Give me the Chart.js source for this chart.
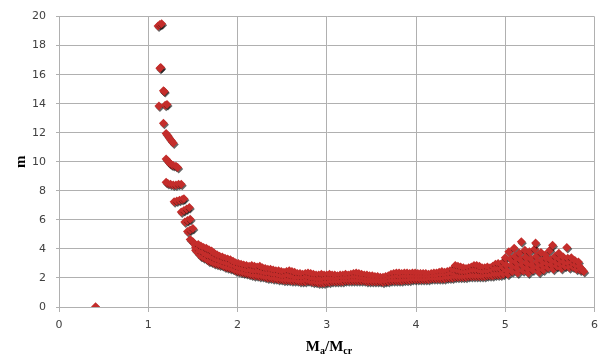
<!DOCTYPE html>
<html>
<head>
<meta charset="utf-8">
<script src="https://cdn.jsdelivr.net/npm/chart.js@4"></script>
<style>
  html, body { margin: 0; padding: 0; background: #fff; }
  #wrap { width: 605px; height: 363px; position: relative; }
  #x-title {
    position: absolute; left: 59px; width: 540px; top: 338px;
    text-align: center; font: bold 15px "Liberation Serif", "Times New Roman", serif; color: #000;
  }
  #x-title sub { font-size: 10px; vertical-align: -3px; line-height: 0; }
</style>
</head>
<body>
<div id="wrap">
  <canvas id="scatter-chart"></canvas>
  <div id="x-title">M<sub>a</sub>/M<sub>cr</sub></div>
</div>
<script>
// axis ticks
const xTicks = [0, 1, 2, 3, 4, 5, 6];
const yTicks = [0, 2, 4, 6, 8, 10, 12, 14, 16, 18, 20];

// [Ma/Mcr, m]
const outlier = [[0.41, 0.02]];

const steepArm = [
    [1.11, 19.35], [1.13, 19.45], [1.15, 19.5],
    [1.14, 16.5], [1.13, 16.45],
    [1.17, 14.9], [1.18, 14.85],
    [1.12, 13.85], [1.19, 13.9], [1.21, 13.95],
    [1.17, 12.65],
    [1.20, 11.95], [1.22, 11.8], [1.24, 11.6], [1.26, 11.45], [1.28, 11.3],
    [1.20, 10.2], [1.22, 10.05], [1.24, 9.9], [1.26, 9.8], [1.28, 9.75], [1.31, 9.7], [1.33, 9.6],
    [1.20, 8.6], [1.22, 8.5], [1.25, 8.45], [1.28, 8.4], [1.31, 8.4], [1.34, 8.45], [1.37, 8.45],
    [1.29, 7.25], [1.32, 7.3], [1.35, 7.35], [1.38, 7.4], [1.40, 7.45],
    [1.37, 6.55], [1.40, 6.65], [1.43, 6.75], [1.46, 6.85],
    [1.41, 5.85], [1.44, 5.95], [1.47, 6.05],
    [1.44, 5.2], [1.47, 5.3], [1.50, 5.4],
    [1.47, 4.65], [1.50, 4.5], [1.52, 4.3]
];

const band = [
    [1.53, 4.1], [1.53, 3.9],
    [1.56, 4.3], [1.56, 4.0], [1.56, 3.7],
    [1.59, 4.2], [1.59, 3.8], [1.59, 3.5],
    [1.62, 4.1], [1.62, 3.75], [1.62, 3.4],
    [1.65, 4.05], [1.65, 3.6], [1.65, 3.3],
    [1.68, 3.95], [1.68, 3.5], [1.68, 3.15],
    [1.71, 3.85], [1.71, 3.45], [1.71, 3.1],
    [1.74, 3.7], [1.74, 3.35], [1.74, 3.0],
    [1.77, 3.6], [1.77, 3.25], [1.77, 2.95],
    [1.80, 3.5], [1.80, 3.2], [1.80, 2.9],
    [1.83, 3.45], [1.83, 3.1], [1.83, 2.85],
    [1.86, 3.35], [1.86, 3.05], [1.86, 2.75],
    [1.89, 3.3], [1.89, 3.0], [1.89, 2.7],
    [1.92, 3.25], [1.92, 2.95], [1.92, 2.65],
    [1.95, 3.15], [1.95, 2.85], [1.95, 2.6],
    [1.98, 3.05], [1.98, 2.8], [1.98, 2.5],
    [2.01, 3.0], [2.01, 2.7], [2.01, 2.45],
    [2.04, 2.95], [2.04, 2.65], [2.04, 2.4],
    [2.07, 2.9], [2.07, 2.6], [2.07, 2.35],
    [2.10, 2.85], [2.10, 2.55], [2.10, 2.3],
    [2.13, 2.8], [2.13, 2.5], [2.13, 2.25],
    [2.16, 2.85], [2.16, 2.5], [2.16, 2.2],
    [2.19, 2.8], [2.19, 2.45], [2.19, 2.15],
    [2.22, 2.75], [2.22, 2.45], [2.22, 2.15],
    [2.25, 2.8], [2.25, 2.45], [2.25, 2.1],
    [2.28, 2.7], [2.28, 2.4], [2.28, 2.1],
    [2.31, 2.65], [2.31, 2.35], [2.31, 2.05],
    [2.34, 2.6], [2.34, 2.3], [2.34, 2.0],
    [2.37, 2.6], [2.37, 2.3], [2.37, 2.0],
    [2.40, 2.55], [2.40, 2.25], [2.40, 1.95],
    [2.43, 2.5], [2.43, 2.2], [2.43, 1.95],
    [2.46, 2.5], [2.46, 2.2], [2.46, 1.9],
    [2.49, 2.45], [2.49, 2.15], [2.49, 1.9],
    [2.52, 2.4], [2.52, 2.1], [2.52, 1.85],
    [2.55, 2.45], [2.55, 2.1], [2.55, 1.85],
    [2.58, 2.5], [2.58, 2.15], [2.58, 1.85],
    [2.61, 2.45], [2.61, 2.1], [2.61, 1.8],
    [2.64, 2.4], [2.64, 2.05], [2.64, 1.8],
    [2.67, 2.3], [2.67, 2.0], [2.67, 1.8],
    [2.70, 2.3], [2.70, 2.0], [2.70, 1.75],
    [2.73, 2.25], [2.73, 2.0], [2.73, 1.75],
    [2.76, 2.3], [2.76, 2.0], [2.76, 1.75],
    [2.79, 2.35], [2.79, 2.05], [2.79, 1.8],
    [2.82, 2.3], [2.82, 2.0], [2.82, 1.75],
    [2.85, 2.25], [2.85, 1.95], [2.85, 1.7],
    [2.88, 2.2], [2.88, 1.95], [2.88, 1.7],
    [2.91, 2.2], [2.91, 1.9], [2.91, 1.65],
    [2.94, 2.25], [2.94, 1.9], [2.94, 1.65],
    [2.97, 2.2], [2.97, 1.9], [2.97, 1.65],
    [3.00, 2.2], [3.00, 1.95], [3.00, 1.7],
    [3.03, 2.25], [3.03, 1.95], [3.03, 1.7],
    [3.06, 2.2], [3.06, 1.95], [3.06, 1.75],
    [3.09, 2.2], [3.09, 1.95], [3.09, 1.75],
    [3.12, 2.15], [3.12, 1.95], [3.12, 1.75],
    [3.15, 2.2], [3.15, 1.95], [3.15, 1.75],
    [3.18, 2.2], [3.18, 2.0], [3.18, 1.75],
    [3.21, 2.25], [3.21, 2.0], [3.21, 1.8],
    [3.24, 2.2], [3.24, 2.0], [3.24, 1.8],
    [3.27, 2.25], [3.27, 2.0], [3.27, 1.8],
    [3.30, 2.3], [3.30, 2.05], [3.30, 1.8],
    [3.33, 2.35], [3.33, 2.05], [3.33, 1.8],
    [3.36, 2.3], [3.36, 2.05], [3.36, 1.8],
    [3.39, 2.25], [3.39, 2.0], [3.39, 1.8],
    [3.42, 2.2], [3.42, 2.0], [3.42, 1.8],
    [3.45, 2.2], [3.45, 1.95], [3.45, 1.75],
    [3.48, 2.15], [3.48, 1.95], [3.48, 1.75],
    [3.51, 2.15], [3.51, 1.95], [3.51, 1.75],
    [3.54, 2.1], [3.54, 1.9], [3.54, 1.75],
    [3.57, 2.1], [3.57, 1.9], [3.57, 1.75],
    [3.60, 2.05], [3.60, 1.9], [3.60, 1.75],
    [3.63, 2.05], [3.63, 1.9], [3.63, 1.7],
    [3.66, 2.1], [3.66, 1.9], [3.66, 1.75],
    [3.69, 2.15], [3.69, 1.95], [3.69, 1.75],
    [3.72, 2.25], [3.72, 2.0], [3.72, 1.8],
    [3.75, 2.3], [3.75, 2.05], [3.75, 1.8],
    [3.78, 2.35], [3.78, 2.05], [3.78, 1.8],
    [3.81, 2.35], [3.81, 2.1], [3.81, 1.8],
    [3.84, 2.3], [3.84, 2.05], [3.84, 1.8],
    [3.87, 2.35], [3.87, 2.1], [3.87, 1.85],
    [3.90, 2.35], [3.90, 2.1], [3.90, 1.85],
    [3.93, 2.3], [3.93, 2.1], [3.93, 1.85],
    [3.96, 2.35], [3.96, 2.1], [3.96, 1.9],
    [3.99, 2.35], [3.99, 2.1], [3.99, 1.9],
    [4.02, 2.3], [4.02, 2.1], [4.02, 1.9],
    [4.05, 2.3], [4.05, 2.1], [4.05, 1.9],
    [4.08, 2.3], [4.08, 2.1], [4.08, 1.9],
    [4.11, 2.3], [4.11, 2.1], [4.11, 1.9],
    [4.14, 2.25], [4.14, 2.1], [4.14, 1.9],
    [4.17, 2.3], [4.17, 2.1], [4.17, 1.95],
    [4.20, 2.35], [4.20, 2.15], [4.20, 1.95],
    [4.23, 2.35], [4.23, 2.15], [4.23, 1.95],
    [4.26, 2.4], [4.26, 2.15], [4.26, 1.95],
    [4.29, 2.45], [4.29, 2.2], [4.29, 1.95],
    [4.32, 2.4], [4.32, 2.2], [4.32, 1.95],
    [4.35, 2.45], [4.35, 2.2], [4.35, 2.0],
    [4.38, 2.5], [4.38, 2.25], [4.38, 2.0],
    [4.41, 2.6], [4.41, 2.3], [4.41, 2.0],
    [4.44, 2.85], [4.44, 2.5], [4.44, 2.25], [4.44, 2.05],
    [4.47, 2.8], [4.47, 2.5], [4.47, 2.05],
    [4.50, 2.75], [4.50, 2.45], [4.50, 2.05],
    [4.53, 2.7], [4.53, 2.4], [4.53, 2.05],
    [4.56, 2.65], [4.56, 2.4], [4.56, 2.05],
    [4.59, 2.7], [4.59, 2.4], [4.59, 2.1],
    [4.62, 2.75], [4.62, 2.45], [4.62, 2.1],
    [4.65, 2.85], [4.65, 2.5], [4.65, 2.1],
    [4.68, 2.85], [4.68, 2.5], [4.68, 2.1],
    [4.71, 2.8], [4.71, 2.5], [4.71, 2.1],
    [4.74, 2.7], [4.74, 2.45], [4.74, 2.1],
    [4.77, 2.7], [4.77, 2.4], [4.77, 2.1],
    [4.80, 2.75], [4.80, 2.45], [4.80, 2.15],
    [4.83, 2.7], [4.83, 2.45], [4.83, 2.15],
    [4.86, 2.8], [4.86, 2.5], [4.86, 2.15],
    [4.89, 2.95], [4.89, 2.6], [4.89, 2.2],
    [4.92, 3.0], [4.92, 2.6], [4.92, 2.2],
    [4.95, 2.95], [4.95, 2.6], [4.95, 2.2],
    [4.98, 3.1], [4.98, 2.7], [4.98, 2.25]
];

const tail = [
    [5.00, 3.4], [5.01, 2.9], [5.02, 2.5], [5.03, 2.25],
    [5.04, 3.8], [5.06, 3.3], [5.07, 2.85], [5.08, 2.45],
    [5.10, 4.05], [5.11, 3.5], [5.12, 3.1], [5.13, 2.7], [5.14, 2.35],
    [5.16, 3.7], [5.17, 3.25], [5.18, 4.5], [5.19, 2.9], [5.20, 2.5],
    [5.22, 3.9], [5.23, 3.45], [5.24, 3.05], [5.25, 2.65], [5.26, 2.35],
    [5.27, 3.8], [5.29, 3.3], [5.30, 2.9], [5.31, 2.55],
    [5.33, 4.0], [5.34, 4.4], [5.35, 3.5], [5.36, 3.1], [5.37, 2.7], [5.38, 2.4],
    [5.40, 3.75], [5.41, 3.2], [5.42, 2.85], [5.43, 2.55],
    [5.45, 3.6], [5.46, 3.35], [5.47, 3.0], [5.48, 2.7],
    [5.50, 3.9], [5.51, 3.25], [5.52, 2.9], [5.53, 4.25], [5.54, 2.6],
    [5.56, 3.5], [5.57, 3.1], [5.58, 2.8],
    [5.60, 3.7], [5.61, 3.3], [5.62, 2.95], [5.63, 2.65],
    [5.65, 3.45], [5.66, 3.1], [5.67, 2.8],
    [5.69, 4.1], [5.70, 3.35], [5.71, 3.0], [5.72, 2.7],
    [5.74, 3.4], [5.75, 3.05], [5.76, 2.75],
    [5.78, 3.2], [5.79, 2.9], [5.80, 2.6],
    [5.82, 3.1], [5.83, 2.8], [5.84, 2.55],
    [5.86, 2.6], [5.88, 2.45]
];

const points = outlier.concat(steepArm, band, tail).map(p => ({ x: p[0], y: p[1] }));

// hard drop shadow under the diamonds
const markerShadow = {
    id: 'markerShadow',
    beforeDatasetsDraw(chart) {
        const c = chart.ctx;
        c.save();
        c.shadowColor = 'rgba(0,0,0,0.6)';
        c.shadowOffsetX = 1;
        c.shadowOffsetY = 1.5;
        c.shadowBlur = 0;
    },
    afterDatasetsDraw(chart) {
        chart.ctx.restore();
    }
};

const gridColor = '#b0b0b0';

new Chart(document.getElementById('scatter-chart'), {
    type: 'scatter',
    data: {
        datasets: [{
            label: 'm',
            data: points,
            pointStyle: 'rectRot',
            pointRadius: 4.5,
            pointHoverRadius: 4.5,
            backgroundColor: '#c42d2b',
            borderWidth: 0
        }]
    },
    options: {
        maintainAspectRatio: false,
        animation: false,
        layout: { padding: { top: 16, right: 6, left: 0, bottom: 0 } },
        plugins: {
            legend: { display: false },
            tooltip: { enabled: false }
        },
        scales: {
            x: {
                min: xTicks[0],
                max: xTicks[xTicks.length - 1],
                ticks: { stepSize: xTicks[1] - xTicks[0], color: '#404040', font: { family: 'DejaVu Sans', size: 11 }, padding: 7 },
                grid: { color: gridColor, tickLength: 5 },
                border: { color: gridColor },
                afterFit: s => { s.height = 56; }
            },
            y: {
                min: yTicks[0],
                max: yTicks[yTicks.length - 1],
                ticks: { stepSize: yTicks[1] - yTicks[0], color: '#404040', font: { family: 'DejaVu Sans', size: 11 }, padding: 10 },
                grid: { color: gridColor, tickLength: 3 },
                border: { color: gridColor },
                title: {
                    display: true,
                    text: 'm',
                    color: '#000',
                    font: { family: 'Liberation Serif', size: 15, weight: 'bold' },
                    padding: { top: 12, bottom: 0 }
                },
                afterFit: s => { s.width = 59; }
            }
        }
    },
    plugins: [markerShadow]
});
</script>
</body>
</html>
